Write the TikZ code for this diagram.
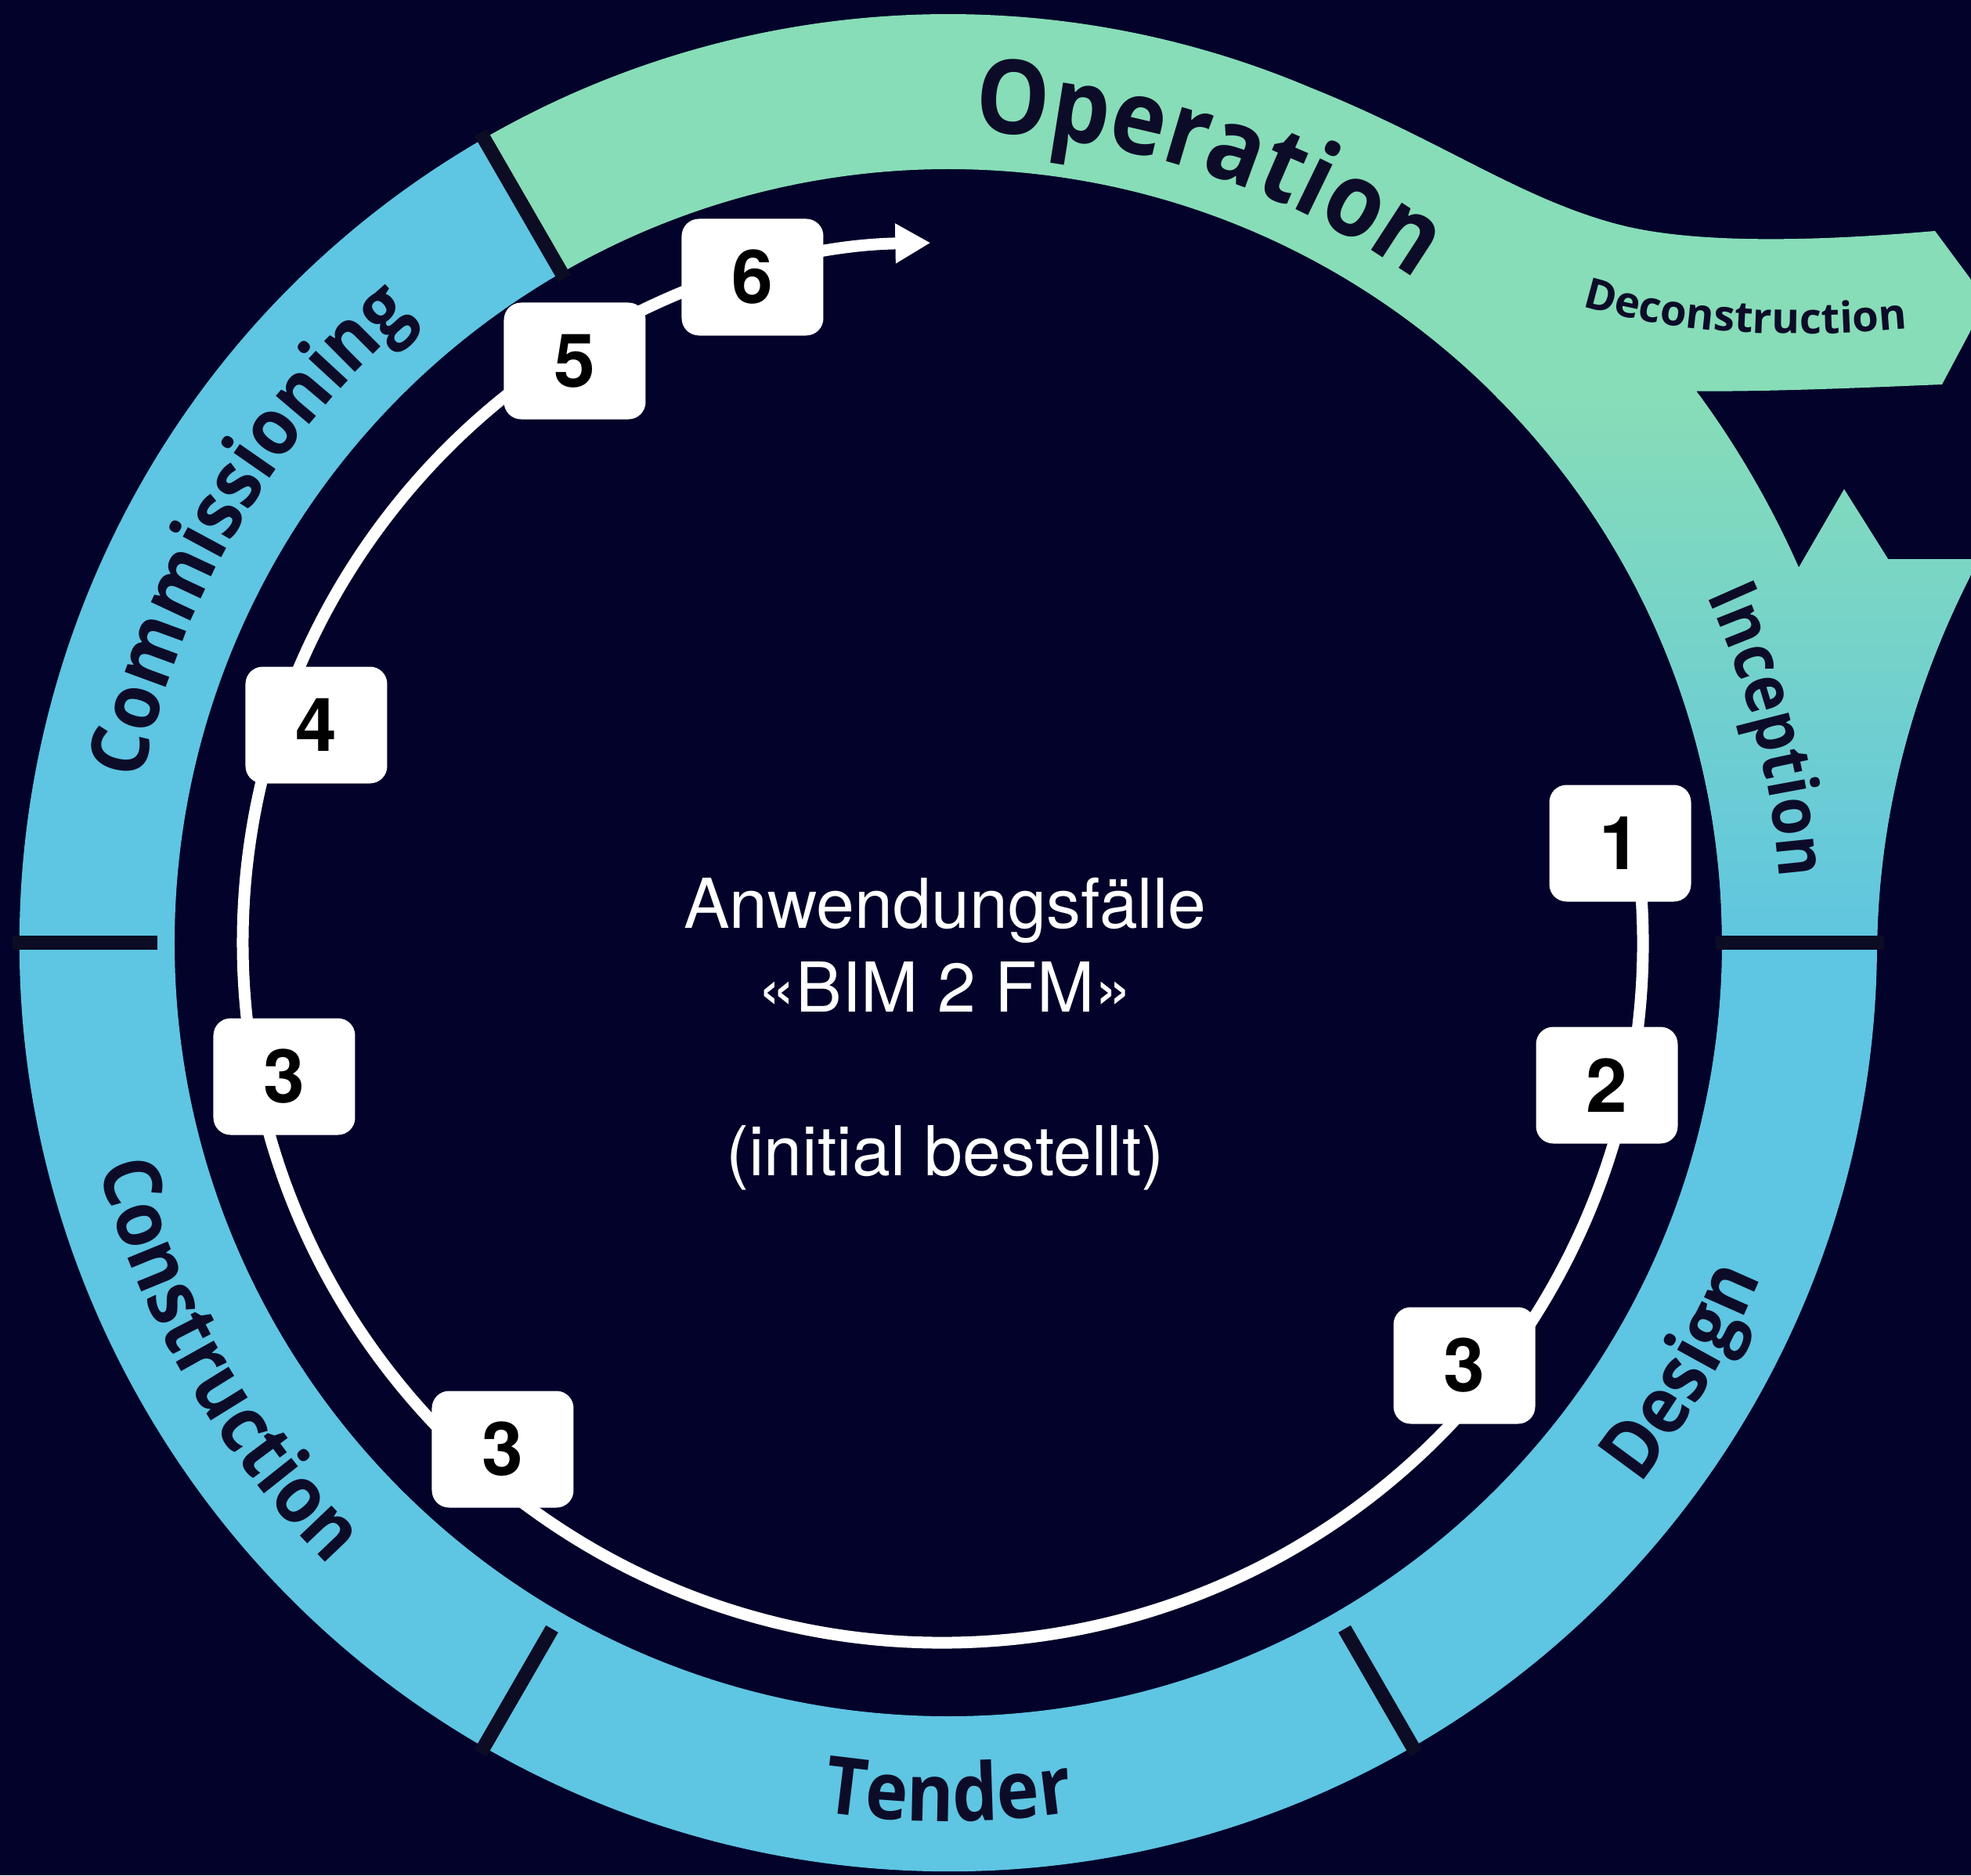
\documentclass[tikz,border=0pt]{standalone}
\usepackage{fontspec}
\usetikzlibrary{decorations.text,arrows.meta}
\setmainfont{TeX Gyre Heros}
\newfontfamily\ringfont{Open Sans}[FakeStretch=0.9]
\newfontfamily\plainring{Open Sans}

\definecolor{bgnavy}{RGB}{2,2,42}
\definecolor{bandblue}{RGB}{94,197,226}
\definecolor{opgreen}{RGB}{135,221,183}
\definecolor{labelink}{RGB}{12,12,40}
\definecolor{divline}{RGB}{12,12,36}

\newcommand\opfont{\ringfont\bfseries\fontsize{37.5pt}{37.5pt}\selectfont}
\newcommand\bandfont{\ringfont\bfseries\fontsize{29pt}{29pt}\selectfont}
\newcommand\incfont{\ringfont\bfseries\fontsize{25pt}{25pt}\selectfont}
\newcommand\decofont{\plainring\bfseries\fontsize{15.5pt}{15.5pt}\selectfont}

% outline of the green part (Operation, Deconstruction, Inception)
\newcommand\greenpath{(120:11.86) arc[start angle=120, end angle=67, radius=11.86]
  .. controls (6.3,10.25) and (7.3,9.5) .. (8.57,9.17)
  .. controls (9.5,8.93) and (11.0,8.95) .. (12.60,9.09)
  -- (13.26,8.20) -- (12.69,7.13)
  .. controls (11.5,7.08) and (10.5,7.04) .. (36.4:11.87)
  arc[start angle=36.4, end angle=23.8, radius=11.87]
  -- (11.44,5.79) -- (12.00,4.90) -- (13.30,4.90) -- (13.30,4.72) -- (13.06,4.70)
  .. controls (12.5,3.6) and (11.9,2.0) .. (0:11.86)
  -- (0:9.88) arc[start angle=0, end angle=120, radius=9.88] -- cycle}

\begin{document}
\begin{tikzpicture}[
    box/.style={fill=white, rounded corners=0.22cm, minimum width=1.81cm, minimum height=1.49cm,
      inner sep=0pt, font=\bfseries\fontsize{27pt}{27pt}\selectfont},
    divider/.style={draw=divline, line width=0.18cm},
    ringtext/.style={decorate, decoration={text along path, text align=center, text color=labelink, text={#1}}},
    loopline/.style={white, line width=0.15cm, -{Triangle[length=0.45cm,width=0.48cm]}},
    centertext/.style={text=white, anchor=base, inner sep=0pt, font=\fontsize{25pt}{30pt}\selectfont}
  ]
    \useasboundingbox (-12.11,-11.91) rectangle (13.06,12.04);
    \fill[bgnavy] (-12.11,-11.91) rectangle (13.06,12.04);
    \clip (-12.11,-11.91) rectangle (13.06,12.04);

    % blue ring
    \fill[bandblue] (120:11.86) arc[start angle=120, end angle=360, radius=11.86]
      -- (0:9.88) arc[start angle=360, end angle=120, radius=9.88] -- cycle;

    % green arrow part
    \begin{scope}
        \clip \greenpath;
        \fill[opgreen] (-13,-1) rectangle (14,13);
        \shade[top color=opgreen, bottom color=bandblue] (-13,-0.3) rectangle (14,7);
    \end{scope}

    \foreach \ang/\rin in {0/9.80, 120/9.80, 180/10.10, 240/10.12, 300/10.12} {
        \draw[divider] (\ang:\rin) -- (\ang:11.95);
    }

    % phase labels
    \path[ringtext={|\opfont|Operation}] (100:10.36) arc[start angle=100, end angle=43, radius=10.36];
    \path[ringtext={|\bandfont|Commissioning}] (185:10.50) arc[start angle=185, end angle=114, radius=10.50];
    \path[ringtext={|\incfont|Inception}] (40:10.65) arc[start angle=40, end angle=-11, radius=10.65];
    \path[ringtext={|\bandfont|Construction}] (170:11.22) arc[start angle=170, end angle=250, radius=11.22];
    \path[ringtext={|\bandfont|Tender}] (235:11.22) arc[start angle=235, end angle=305, radius=11.22];
    \path[ringtext={|\bandfont|Design}] (295:11.22) arc[start angle=295, end angle=364.5, radius=11.22];
    \path[ringtext={|\decofont|Deconstruction}] (7.9,8.19) .. controls (9.2,7.75) and (10.9,7.70) .. (12.45,7.86);

    % use case loop
    \coordinate (loopctr) at (-0.07,0);
    \coordinate (loopstart) at ([shift={(6:8.94)}]loopctr);
    \draw[loopline] (loopstart) arc[start angle=6, end angle=-269, radius=8.94];

    \foreach \name/\x/\y/\num in {uc1/8.58/1.27/1, uc2/8.41/-1.82/2, uc3a/6.59/-5.40/3, uc3b/-5.69/-6.47/3,
        uc3c/-8.48/-1.71/3, uc4/-8.07/2.78/4, uc5/-4.77/7.43/5, uc6/-2.50/8.50/6} {
        \node[box] (\name) at (\x,\y) {\num};
    }

    \node[centertext] (title1) at (-0.04,0.19) {Anwendungsfälle};
    \node[centertext] (title2) at (-0.04,-0.88) {«BIM 2 FM»};
    \node[centertext] (title3) at (-0.04,-2.97) {(initial bestellt)};
\end{tikzpicture}
\end{document}
